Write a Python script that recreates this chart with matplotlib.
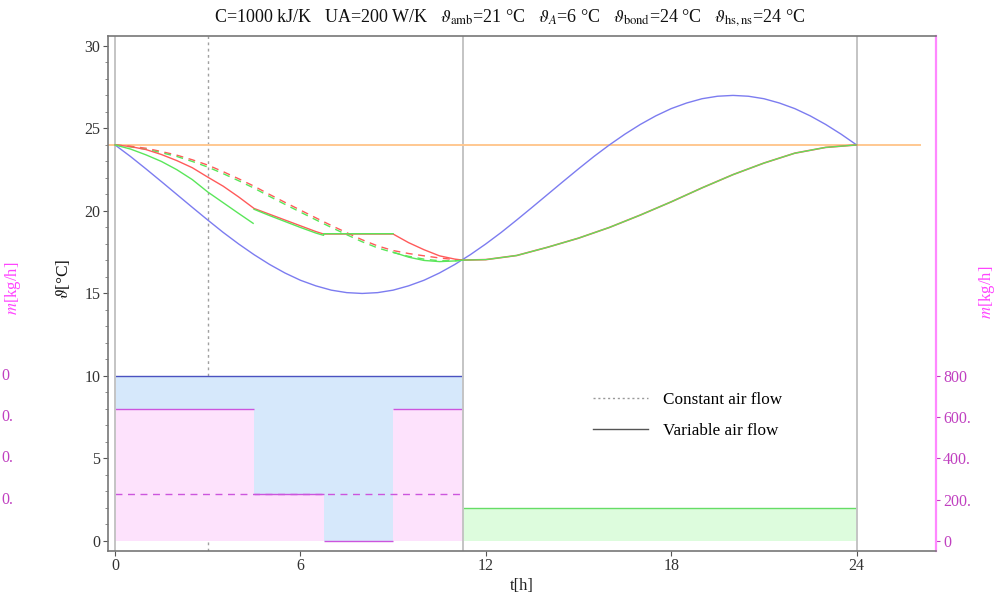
import matplotlib
matplotlib.use('Agg')
import matplotlib.pyplot as plt
import numpy as np
from matplotlib.lines import Line2D
import matplotlib.transforms as mtrans

plt.rcParams['font.family'] = ['Liberation Serif', 'DejaVu Serif']
plt.rcParams['mathtext.fontset'] = 'stix'

nan = np.nan

# ---------------- data ----------------
# ambient temperature (read every half hour)
t_amb = [0, 0.5, 1, 1.5, 2, 2.5, 3, 3.5, 4, 4.5, 5, 5.5, 6, 6.5, 7, 7.5, 8, 8.5, 9, 9.5, 10, 10.5,
         11, 11.5, 12, 12.5, 13, 13.5, 14, 14.5, 15, 15.5, 16, 16.5, 17, 17.5, 18, 18.5, 19, 19.5,
         20, 20.5, 21, 21.5, 22, 22.5, 23, 23.5, 24]
theta_amb = [24.0, 23.30, 22.55, 21.78, 21.0, 20.22, 19.45, 18.70, 18.0, 17.35, 16.76, 16.24,
             15.80, 15.46, 15.20, 15.05, 15.0, 15.05, 15.20, 15.46, 15.80, 16.24, 16.76, 17.35,
             18.0, 18.70, 19.45, 20.22, 21.0, 21.78, 22.55, 23.30, 24.0, 24.65, 25.24, 25.76,
             26.20, 26.54, 26.80, 26.95, 27.0, 26.95, 26.80, 26.54, 26.20, 25.76, 25.24, 24.65, 24.0]

# common (night) part after 11.26 h
t_night = [11.26, 12, 13, 14, 15, 16, 17, 18, 19, 20, 21, 22, 23, 24]
theta_night = [17.02, 17.05, 17.3, 17.8, 18.35, 19.0, 19.75, 20.55, 21.4, 22.2, 22.9, 23.5, 23.85, 24.0]

# variable air flow - red
t_red_var = [0, 0.5, 1, 1.5, 2, 2.5, 3, 3.5, 4, 4.5, 5, 5.5, 6, 6.5, 6.75, 9.0, 9.5, 10, 10.5, 11, 11.26]
theta_red_var = [24.0, 23.9, 23.72, 23.42, 23.05, 22.62, 22.05, 21.5, 20.85, 20.15,
                 19.8, 19.45, 19.1, 18.75, 18.6, 18.6, 18.08, 17.65, 17.28, 17.08, 17.02]

# variable air flow - green (with breaks)
t_green_var = [0, 0.5, 1, 1.5, 2, 2.5, 3, 3.5, 4, 4.47, nan,
               4.5, 5, 5.5, 6, 6.5, 6.75, 6.75, 9.0, nan,
               9.0, 9.5, 10, 10.5, 11, 11.26]
theta_green_var = [24.0, 23.75, 23.4, 23.0, 22.5, 21.9, 21.15, 20.5, 19.85, 19.25, nan,
                   20.1, 19.72, 19.36, 19.0, 18.66, 18.52, 18.62, 18.62, nan,
                   17.5, 17.2, 17.0, 16.93, 16.97, 17.02]

# constant air flow (dashed)
t_const = [0, 0.5, 1, 1.5, 2, 2.5, 3, 3.5, 4, 4.5, 5, 5.5, 6, 6.5, 7, 7.5, 8, 8.5, 9, 9.5, 10, 10.5, 11, 11.26]
theta_red_const = [24.0, 23.92, 23.8, 23.6, 23.38, 23.1, 22.78, 22.38, 21.95, 21.5, 21.0, 20.52,
                   20.05, 19.58, 19.12, 18.68, 18.25, 17.88, 17.6, 17.42, 17.28, 17.15, 17.05, 17.02]
theta_green_const = [24.0, 23.88, 23.74, 23.53, 23.3, 23.0, 22.66, 22.26, 21.83, 21.38, 20.88, 20.4,
                     19.93, 19.46, 19.0, 18.56, 18.13, 17.76, 17.48, 17.25, 17.08, 16.98, 16.98, 17.02]

# set point line
t_ref = [-0.25, 26.05]
theta_ref = [24, 24]

# mass flows [kg/h]
flow_edges = [0, 4.5, 6.75, 9.0, 11.26]
flow_var = [640, 228, 0, 640]
flow_const_edges = [0, 11.26]
flow_const = [228]
flow_max_edges = [0, 11.26]
flow_max = [800]
flow_night_edges = [11.26, 24]
flow_night = [160]

# vertical marker lines
t_grid = [0, 11.26, 24]
t_dotted = [3]

x_ticks = [0, 6, 12, 18, 24]
y_ticks = [0, 5, 10, 15, 20, 25, 30]
m_ticks = [0, 200, 400, 600, 800]
m_ticklabels = ['0', '200.', '400.', '600.', '800']
# the part of the left (clipped) mass-flow tick labels that is visible at the figure edge
m_left_ticks = [200, 400, 600, 800]
m_left_labels = ['0.', '0.', '0.', '0']

# ---------------- figure ----------------
W, H = 1001, 598
fig = plt.figure(figsize=(W / 100, H / 100), dpi=100)
ax = fig.add_axes([108 / W, 1 - 551 / H, (936 - 108) / W, (551 - 36) / H])
ax2 = ax.twinx()

ylim = (-0.606, 30.6)
ax.set_xlim(-0.227, 26.57)
ax.set_ylim(*ylim)
ratio = 80.0
ax2.set_ylim(ylim[0] * ratio, ylim[1] * ratio)

ax.set_zorder(ax2.get_zorder() + 1)
ax.patch.set_visible(False)

# --- mass flow panel (ax2) ---
c_blue_fill = '#d6e8fb'
c_pink_fill = '#fde2fc'
c_green_fill = '#ddfcdd'
c_mag = '#cc55dd'

for t in t_dotted:
    ax2.axvline(t, color='#a0a0a0', lw=1.0, ls=(0, (2, 2.5)), zorder=0.5)

ax2.stairs(flow_max, flow_max_edges, fill=True, color=c_blue_fill, zorder=1)
ax2.hlines(flow_max, flow_max_edges[:-1], flow_max_edges[1:], color='#4a52c0', lw=1.0, zorder=2)
ax2.stairs(flow_var, flow_edges, fill=True, color=c_pink_fill, zorder=1.2)
ax2.hlines(flow_var, flow_edges[:-1], flow_edges[1:], color=c_mag, lw=1.0, zorder=2)
ax2.hlines(flow_const, flow_const_edges[:-1], flow_const_edges[1:], color=c_mag, lw=1.0,
           linestyles=[(0, (5, 4))], zorder=2)
ax2.stairs(flow_night, flow_night_edges, fill=True, color=c_green_fill, zorder=1)
ax2.hlines(flow_night, flow_night_edges[:-1], flow_night_edges[1:], color='#66dd66', lw=1.0, zorder=2)

ax2.set_yticks(m_ticks)
ax2.set_yticklabels(m_ticklabels)
ax2.tick_params(axis='y', colors='#c040c0', labelsize=11.5, direction='out', length=3, width=0.8, pad=2)
for s in ['left', 'top', 'bottom']:
    ax2.spines[s].set_visible(False)
ax2.spines['right'].set_color('#ff88ff')
ax2.spines['right'].set_linewidth(1.6)

# --- temperature panel (ax) ---
for t in t_grid:
    ax.axvline(t, color='#c4c4c4', lw=1.4, zorder=1)

ax.plot(t_ref, theta_ref, color='#ffc890', lw=1.4, zorder=2)
ax.plot(t_amb, theta_amb, color='#7c7cf0', lw=1.0, zorder=2)

dash = (0, (5, 4))
ax.plot(t_const, theta_red_const, color='#ff5a5a', lw=1.0, ls=dash, zorder=3)
ax.plot(t_const, theta_green_const, color='#5ae65a', lw=1.0, ls=dash, zorder=3)
ax.plot(t_red_var, theta_red_var, color='#ff5a5a', lw=1.0, zorder=3)
ax.plot(t_night, theta_night, color='#ff5a5a', lw=1.2, zorder=3)
ax.plot(t_green_var, theta_green_var, color='#5ae65a', lw=1.0, zorder=4)
ax.plot(t_night, theta_night, color='#5ae65a', lw=0.9, zorder=4)

ax.set_xticks(x_ticks)
ax.set_yticks(y_ticks)
ax.set_yticks(np.arange(0, 31, 1), minor=True)
ax.tick_params(axis='both', which='major', labelsize=11.5, colors='#555555', labelcolor='#333333',
               direction='out', length=3.5, width=0.8)
ax.tick_params(axis='y', which='minor', colors='#777777', direction='out', length=2, width=0.6)
ax.tick_params(axis='x', pad=1.5)
ax.tick_params(axis='y', pad=2)
ax.spines['right'].set_visible(False)
for s in ['left', 'top', 'bottom']:
    ax.spines[s].set_color('#777777')
    ax.spines[s].set_linewidth(1.2)

ax.set_xlabel('t[h]', fontsize=12, labelpad=3, color='#222222')
ax.set_ylabel(r'$\vartheta$[°C]', fontsize=12.5, color='#111111')
ax.yaxis.set_label_coords((72 - 108) / (936 - 108), (551 - 279) / (551 - 36))

# legend
handles = [Line2D([], [], color='#999999', lw=1.0, ls=(0, (1.5, 2))),
           Line2D([], [], color='#555555', lw=1.0)]
ax.legend(handles, ['Constant air flow', 'Variable air flow'], loc='upper left',
          bbox_to_anchor=(593 / W, 1 - 392 / H), bbox_transform=fig.transFigure,
          frameon=False, fontsize=12.3, handlelength=3.2, handletextpad=0.88,
          labelspacing=0.85, borderpad=0, borderaxespad=0)

# title
fig.text(510 / W, 1 - 18 / H,
         r'C=1000 kJ/K   UA=200 W/K   $\vartheta_{\mathrm{amb}}$=21 °C   $\vartheta_{A}$=6 °C   '
         r'$\vartheta_{\mathrm{bond}}$=24 °C   $\vartheta_{\mathrm{hs,ns}}$=24 °C',
         ha='center', va='center', fontsize=13.0, color='#111111')

# mass-flow axis labels
fig.text(13 / W, 1 - 288 / H, r'$m$[kg/h]', rotation=90, ha='center', va='center',
         fontsize=12, color='#ff44ff')
fig.text(987 / W, 1 - 292 / H, r'$m$[kg/h]', rotation=90, ha='center', va='center',
         fontsize=12, color='#ff44ff')

# visible remainder of the left mass-flow tick labels at the figure edge
trans = mtrans.blended_transform_factory(fig.transFigure, ax2.transData)
for v, lab in zip(m_left_ticks, m_left_labels):
    ax2.text(1 / W, v, lab, transform=trans, ha='left', va='center',
             fontsize=11.5, color='#c040c0', clip_on=False)

fig.savefig('out.png', dpi=100)
